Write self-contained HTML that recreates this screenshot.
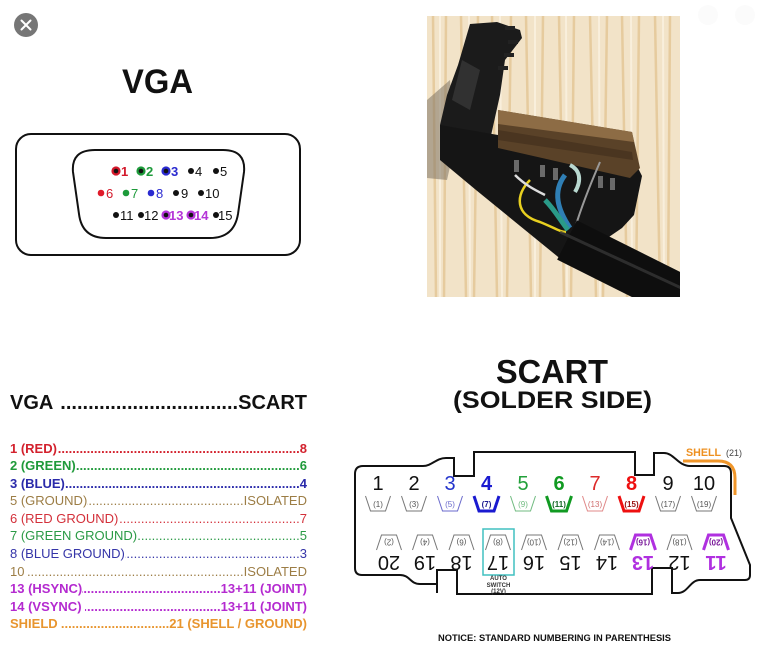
<!DOCTYPE html>
<html><head><meta charset="utf-8">
<style>
html,body{margin:0;padding:0;background:#fff;}
body{width:757px;height:652px;position:relative;overflow:hidden;font-family:"Liberation Sans",Arial,sans-serif;}
svg{position:absolute;left:0;top:0;}
.hdr{position:absolute;left:10px;top:391px;width:297px;height:24px;line-height:24px;font-size:20px;font-weight:bold;color:#111;display:flex;white-space:nowrap;}
.rows{position:absolute;left:10px;top:439.7px;width:297px;}
.r{display:flex;white-space:nowrap;font-size:13px;line-height:17.56px;height:17.56px;}
.r .d,.hdr .d{flex:1;overflow:hidden;direction:rtl;}
.b{font-weight:bold;}
</style></head><body>
<svg width="757" height="652" viewBox="0 0 757 652" xmlns="http://www.w3.org/2000/svg" font-family="Liberation Sans, Arial, sans-serif">
<defs><clipPath id="ph"><rect x="427" y="16" width="253" height="281"/></clipPath></defs>
<circle cx="26" cy="25" r="12" fill="#767676"/>
<path d="M21.5 20.5 L30.5 29.5 M30.5 20.5 L21.5 29.5" stroke="#fff" stroke-width="2" stroke-linecap="round"/>
<circle cx="708" cy="15" r="10" fill="#fbfbfb"/>
<circle cx="745" cy="15" r="10" fill="#fbfbfb"/>

<text x="122" y="93" font-size="34" font-weight="bold" fill="#111" textLength="71" lengthAdjust="spacingAndGlyphs">VGA</text>
<rect x="16" y="134" width="284" height="121" rx="15" fill="none" stroke="#111" stroke-width="2"/>
<path d="M95 150 L223 150 Q246 150 244 172 L238 214 Q234 238 210 238 L106 238 Q82 238 79 214 L73 172 Q71 150 95 150 Z" fill="none" stroke="#111" stroke-width="2"/>
<g font-size="13">
<circle cx="116" cy="171" r="4.6" fill="#d3182a"/><circle cx="116" cy="171" r="2.3" fill="#111"/><text x="121" y="176" font-weight="bold" fill="#d3182a">1</text>
<circle cx="141" cy="171" r="4.6" fill="#1d9a3a"/><circle cx="141" cy="171" r="2.3" fill="#111"/><text x="146" y="176" font-weight="bold" fill="#1d9a3a">2</text>
<circle cx="166" cy="171" r="4.6" fill="#2a2ad0"/><circle cx="166" cy="171" r="2.3" fill="#111"/><text x="171" y="176" font-weight="bold" fill="#2a2ad0">3</text>
<circle cx="191" cy="171" r="3" fill="#111"/><text x="195" y="176" fill="#111">4</text>
<circle cx="216" cy="171" r="3" fill="#111"/><text x="220" y="176" fill="#111">5</text>

<circle cx="101" cy="193" r="3.3" fill="#e01a2a"/><text x="106" y="198" fill="#d3182a">6</text>
<circle cx="126" cy="193" r="3.3" fill="#1d9a3a"/><text x="131" y="198" fill="#1d9a3a">7</text>
<circle cx="151" cy="193" r="3.3" fill="#2a2ad0"/><text x="156" y="198" fill="#2a2ad0">8</text>
<circle cx="176" cy="193" r="3" fill="#111"/><text x="181" y="198" fill="#111">9</text>
<circle cx="201" cy="193" r="3" fill="#111"/><text x="205" y="198" fill="#111">10</text>

<circle cx="116" cy="215" r="3" fill="#111"/><text x="120" y="220" fill="#111">11</text>
<circle cx="141" cy="215" r="3" fill="#111"/><text x="144" y="220" fill="#111">12</text>
<circle cx="166" cy="215" r="4.6" fill="#b535d8"/><circle cx="166" cy="215" r="2.3" fill="#111"/><text x="169" y="220" fill="#b535d8" font-weight="bold">13</text>
<circle cx="191" cy="215" r="4.6" fill="#b535d8"/><circle cx="191" cy="215" r="2.3" fill="#111"/><text x="194" y="220" fill="#b535d8" font-weight="bold">14</text>
<circle cx="216" cy="215" r="3" fill="#111"/><text x="218" y="220" fill="#111">15</text>
</g>

<!-- Photo -->
<g clip-path="url(#ph)">
<rect x="427" y="16" width="253" height="281" fill="#f2e3c8"/>
<g stroke="#e2c494" stroke-width="2.5" opacity="0.8" fill="none">
<path d="M433 16 L436 297 M446 16 L444 297 M461 16 L466 297 M478 16 L474 297 M492 16 L497 297 M511 16 L507 297 M526 16 L531 297 M543 16 L540 297 M559 16 L564 297 M574 16 L571 297 M590 16 L596 297 M607 16 L603 297 M622 16 L627 297 M639 16 L636 297 M655 16 L660 297 M670 16 L668 297"/>
</g>
<g stroke="#f9efde" stroke-width="2" opacity="0.9" fill="none">
<path d="M440 16 L440 297 M469 16 L470 297 M500 16 L502 297 M535 16 L535 297 M566 16 L567 297 M599 16 L600 297 M631 16 L632 297 M663 16 L664 297"/>
</g>
<polygon points="427,100 450,80 456,140 447,180 427,178" fill="#7d7262" opacity="0.55"/>
<polygon points="470,24 497,22 520,30 522,38 505,60 500,95 490,140 483,180 445,140 440,125 447,95 458,65" fill="#1b1b1b"/>
<polygon points="462,60 480,70 470,110 452,100" fill="#3a3a3a" opacity="0.7"/>
<rect x="505" y="26" width="10" height="4" fill="#222"/>
<rect x="508" y="40" width="10" height="4" fill="#222"/>
<rect x="504" y="53" width="10" height="4" fill="#222"/>
<rect x="498" y="66" width="10" height="4" fill="#222"/>
<polygon points="440,125 498,135 638,168 642,176 634,215 622,228 568,265 476,190 440,160" fill="#151515"/>
<polygon points="498,110 632,132 640,168 630,178 498,148" fill="#5a4228"/>
<polygon points="498,110 632,132 634,142 498,124" fill="#8d6c45"/>
<polygon points="498,130 632,152 633,160 498,140" fill="#4a3520"/>
<g fill="#6a6a6a">
<rect x="514" y="160" width="5" height="12"/><rect x="540" y="165" width="5" height="12"/><rect x="553" y="168" width="5" height="12"/><rect x="598" y="176" width="5" height="12"/><rect x="610" y="178" width="5" height="12"/>
</g>
<path d="M530 180 C515 195 515 215 540 222 C555 228 560 232 566 232" stroke="#e8d020" stroke-width="2.5" fill="none"/>
<path d="M515 175 C525 185 535 190 545 195" stroke="#ddd" stroke-width="2.5" fill="none"/>
<path d="M565 175 C552 192 558 210 570 228" stroke="#2f7fb5" stroke-width="5" fill="none"/>
<path d="M545 200 C555 210 560 220 568 230" stroke="#2a9a88" stroke-width="5" fill="none"/>
<path d="M570 165 C580 170 582 180 575 192" stroke="#b8d8d0" stroke-width="4" fill="none"/>
<path d="M600 162 C590 185 582 205 575 228" stroke="#999" stroke-width="2" fill="none"/>
<path d="M567 240 L695 304" stroke="#0e0e0e" stroke-width="44" fill="none"/>
<path d="M560 232 L690 292" stroke="#3a3a3a" stroke-width="3" fill="none" opacity="0.7"/>
</g>

<text x="496" y="383" font-size="33" font-weight="bold" fill="#111" textLength="112" lengthAdjust="spacingAndGlyphs">SCART</text>
<text x="453" y="408" font-size="24" font-weight="bold" fill="#111" textLength="199" lengthAdjust="spacingAndGlyphs">(SOLDER SIDE)</text>

<path d="M355 474 Q355 466 363 466 L423 466 C432 466 436 458 446 458 L454 458 L454 476 L474 476 L474 452 L635 452 L635 475 L654 475 L654 453 L664 453 C674 453 678 466 690 466 L724 466 Q731 466 731 473 L731 518 L750 565 L750 575 Q750 580 745 580 L700 580 C690 580 688 593 678 593 L672 593 L672 568 L652 568 L652 594 L457 594 L457 570 L437 570 L437 584 L420 584 C410 584 410 575 400 575 L362 575 Q355 575 355 568 Z" fill="none" stroke="#111" stroke-width="2"/>
<path d="M437 584 L437 593" stroke="#111" stroke-width="2"/>

<path d="M683 461 L718 461 Q735 461 735 478 L735 495" stroke="#f0962a" stroke-width="3" fill="none"/>
<text x="686" y="456" font-size="11" font-weight="bold" fill="#ee9020" textLength="35" lengthAdjust="spacingAndGlyphs">SHELL</text>
<text x="726" y="456" font-size="9" fill="#444">(21)</text>

<g font-size="20" text-anchor="middle">
<text x="378" y="490" fill="#111">1</text>
<text x="414" y="490" fill="#111">2</text>
<text x="450" y="490" fill="#2233cc">3</text>
<text x="486.5" y="490" fill="#1a1ad0" font-weight="bold">4</text>
<text x="523" y="490" fill="#22a03a">5</text>
<text x="559" y="490" fill="#119a22" font-weight="bold">6</text>
<text x="595" y="490" fill="#dd2a2a">7</text>
<text x="631.5" y="490" fill="#ee1010" font-weight="bold">8</text>
<text x="668" y="490" fill="#111">9</text>
<text x="704" y="490" fill="#111">10</text>
</g>
<g fill="none" stroke-linejoin="miter">
<path d="M365.5 496 L370.5 511 L385.5 511 L390.5 496" stroke="#777" stroke-width="1"/>
<path d="M401.5 496 L406.5 511 L421.5 511 L426.5 496" stroke="#777" stroke-width="1"/>
<path d="M437.5 496 L442.5 511 L457.5 511 L462.5 496" stroke="#6a6acc" stroke-width="1"/>
<path d="M474 496 L479 511 L494 511 L499 496" stroke="#1a1ad0" stroke-width="3"/>
<path d="M510.5 496 L515.5 511 L530.5 511 L535.5 496" stroke="#70bb80" stroke-width="1"/>
<path d="M546.5 496 L551.5 511 L566.5 511 L571.5 496" stroke="#119a22" stroke-width="3"/>
<path d="M582.5 496 L587.5 511 L602.5 511 L607.5 496" stroke="#e08888" stroke-width="1"/>
<path d="M619 496 L624 511 L639 511 L644 496" stroke="#ee1010" stroke-width="3"/>
<path d="M655.5 496 L660.5 511 L675.5 511 L680.5 496" stroke="#777" stroke-width="1"/>
<path d="M691.5 496 L696.5 511 L711.5 511 L716.5 496" stroke="#777" stroke-width="1"/>
</g>
<g font-size="8" text-anchor="middle">
<text x="378" y="507" fill="#555">(1)</text>
<text x="414" y="507" fill="#555">(3)</text>
<text x="450" y="507" fill="#6a6acc">(5)</text>
<text x="486.5" y="507" fill="#1a1a90" font-weight="bold">(7)</text>
<text x="523" y="507" fill="#70bb80">(9)</text>
<text x="559" y="507" fill="#116622" font-weight="bold">(11)</text>
<text x="595" y="507" fill="#d07070">(13)</text>
<text x="631.5" y="507" fill="#991010" font-weight="bold">(15)</text>
<text x="668" y="507" fill="#555">(17)</text>
<text x="704" y="507" fill="#555">(19)</text>
</g>

<g fill="none">
<path d="M376.5 550 L381.5 535 L396.5 535 L401.5 550" stroke="#777" stroke-width="1"/>
<path d="M412.5 550 L417.5 535 L432.5 535 L437.5 550" stroke="#777" stroke-width="1"/>
<path d="M449 550 L454 535 L469 535 L474 550" stroke="#777" stroke-width="1"/>
<path d="M485.5 550 L490.5 535 L505.5 535 L510.5 550" stroke="#777" stroke-width="1"/>
<path d="M521.5 550 L526.5 535 L541.5 535 L546.5 550" stroke="#777" stroke-width="1"/>
<path d="M558 550 L563 535 L578 535 L583 550" stroke="#777" stroke-width="1"/>
<path d="M594.5 550 L599.5 535 L614.5 535 L619.5 550" stroke="#777" stroke-width="1"/>
<path d="M630.5 550 L635.5 535 L650.5 535 L655.5 550" stroke="#b030e0" stroke-width="3"/>
<path d="M667 550 L672 535 L687 535 L692 550" stroke="#777" stroke-width="1"/>
<path d="M703.5 550 L708.5 535 L723.5 535 L728.5 550" stroke="#b030e0" stroke-width="3"/>
</g>
<g font-size="8" text-anchor="middle">
<text x="389" y="545.5" fill="#555" transform="rotate(180 389 542.5)">(2)</text>
<text x="425" y="545.5" fill="#555" transform="rotate(180 425 542.5)">(4)</text>
<text x="461.5" y="545.5" fill="#555" transform="rotate(180 461.5 542.5)">(6)</text>
<text x="498" y="545.5" fill="#555" transform="rotate(180 498 542.5)">(8)</text>
<text x="534" y="545.5" fill="#555" transform="rotate(180 534 542.5)">(10)</text>
<text x="570.5" y="545.5" fill="#555" transform="rotate(180 570.5 542.5)">(12)</text>
<text x="607" y="545.5" fill="#555" transform="rotate(180 607 542.5)">(14)</text>
<text x="643" y="545.5" fill="#7a1a9a" font-weight="bold" transform="rotate(180 643 542.5)">(16)</text>
<text x="679.5" y="545.5" fill="#555" transform="rotate(180 679.5 542.5)">(18)</text>
<text x="716" y="545.5" fill="#7a1a9a" font-weight="bold" transform="rotate(180 716 542.5)">(20)</text>
</g>
<g font-size="20" text-anchor="middle">
<text x="389" y="570" fill="#111" transform="rotate(180 389 563)">20</text>
<text x="425" y="570" fill="#111" transform="rotate(180 425 563)">19</text>
<text x="461.5" y="570" fill="#111" transform="rotate(180 461.5 563)">18</text>
<text x="498" y="570" fill="#111" transform="rotate(180 498 563)">17</text>
<text x="534" y="570" fill="#111" transform="rotate(180 534 563)">16</text>
<text x="570.5" y="570" fill="#111" transform="rotate(180 570.5 563)">15</text>
<text x="607" y="570" fill="#111" transform="rotate(180 607 563)">14</text>
<text x="643" y="570" fill="#b030e0" font-weight="bold" transform="rotate(180 643 563)">13</text>
<text x="679.5" y="570" fill="#111" transform="rotate(180 679.5 563)">12</text>
<text x="716" y="570" fill="#b030e0" font-weight="bold" transform="rotate(180 716 563)">11</text>
</g>
<rect x="483" y="529" width="31" height="46" fill="none" stroke="#40c0c0" stroke-width="1.5"/>
<g font-size="6" font-weight="bold" fill="#333" text-anchor="middle">
<text x="498.5" y="580">AUTO</text>
<text x="498.5" y="587">SWITCH</text>
<text x="498.5" y="593">(12V)</text>
</g>
<text x="438" y="641" font-size="9" font-weight="bold" fill="#111" textLength="233" lengthAdjust="spacingAndGlyphs">NOTICE: STANDARD NUMBERING IN PARENTHESIS</text>
</svg>

<div class="hdr"><span>VGA&nbsp;</span><span class="d">............................................................................................................</span><span>SCART</span></div>
<div class="rows">
<div class="r b" style="color:#d3212d"><span>1 (RED)</span><span class="d">..............................................................................................................................</span><span>8</span></div>
<div class="r b" style="color:#1f9a3a"><span>2 (GREEN)</span><span class="d">..............................................................................................................................</span><span>6</span></div>
<div class="r b" style="color:#2a2aaa"><span>3 (BLUE)</span><span class="d">..............................................................................................................................</span><span>4</span></div>
<div class="r" style="color:#9c7d45"><span>5 (GROUND)</span><span class="d">..............................................................................................................................</span><span>ISOLATED</span></div>
<div class="r" style="color:#d3303a"><span>6 (RED GROUND)</span><span class="d">..............................................................................................................................</span><span>7</span></div>
<div class="r" style="color:#2a9a45"><span>7 (GREEN GROUND)</span><span class="d">..............................................................................................................................</span><span>5</span></div>
<div class="r" style="color:#3535a8"><span>8 (BLUE GROUND)</span><span class="d">..............................................................................................................................</span><span>3</span></div>
<div class="r" style="color:#9c7d45"><span>10&nbsp;</span><span class="d">..............................................................................................................................</span><span>ISOLATED</span></div>
<div class="r b" style="color:#b42ad0"><span>13 (HSYNC)</span><span class="d">..............................................................................................................................</span><span>13+11 (JOINT)</span></div>
<div class="r b" style="color:#b42ad0"><span>14 (VSYNC)&nbsp;</span><span class="d">..............................................................................................................................</span><span>13+11 (JOINT)</span></div>
<div class="r b" style="color:#e8952e"><span>SHIELD&nbsp;</span><span class="d">..............................................................................................................................</span><span>21 (SHELL / GROUND)</span></div>
</div>
</body></html>
